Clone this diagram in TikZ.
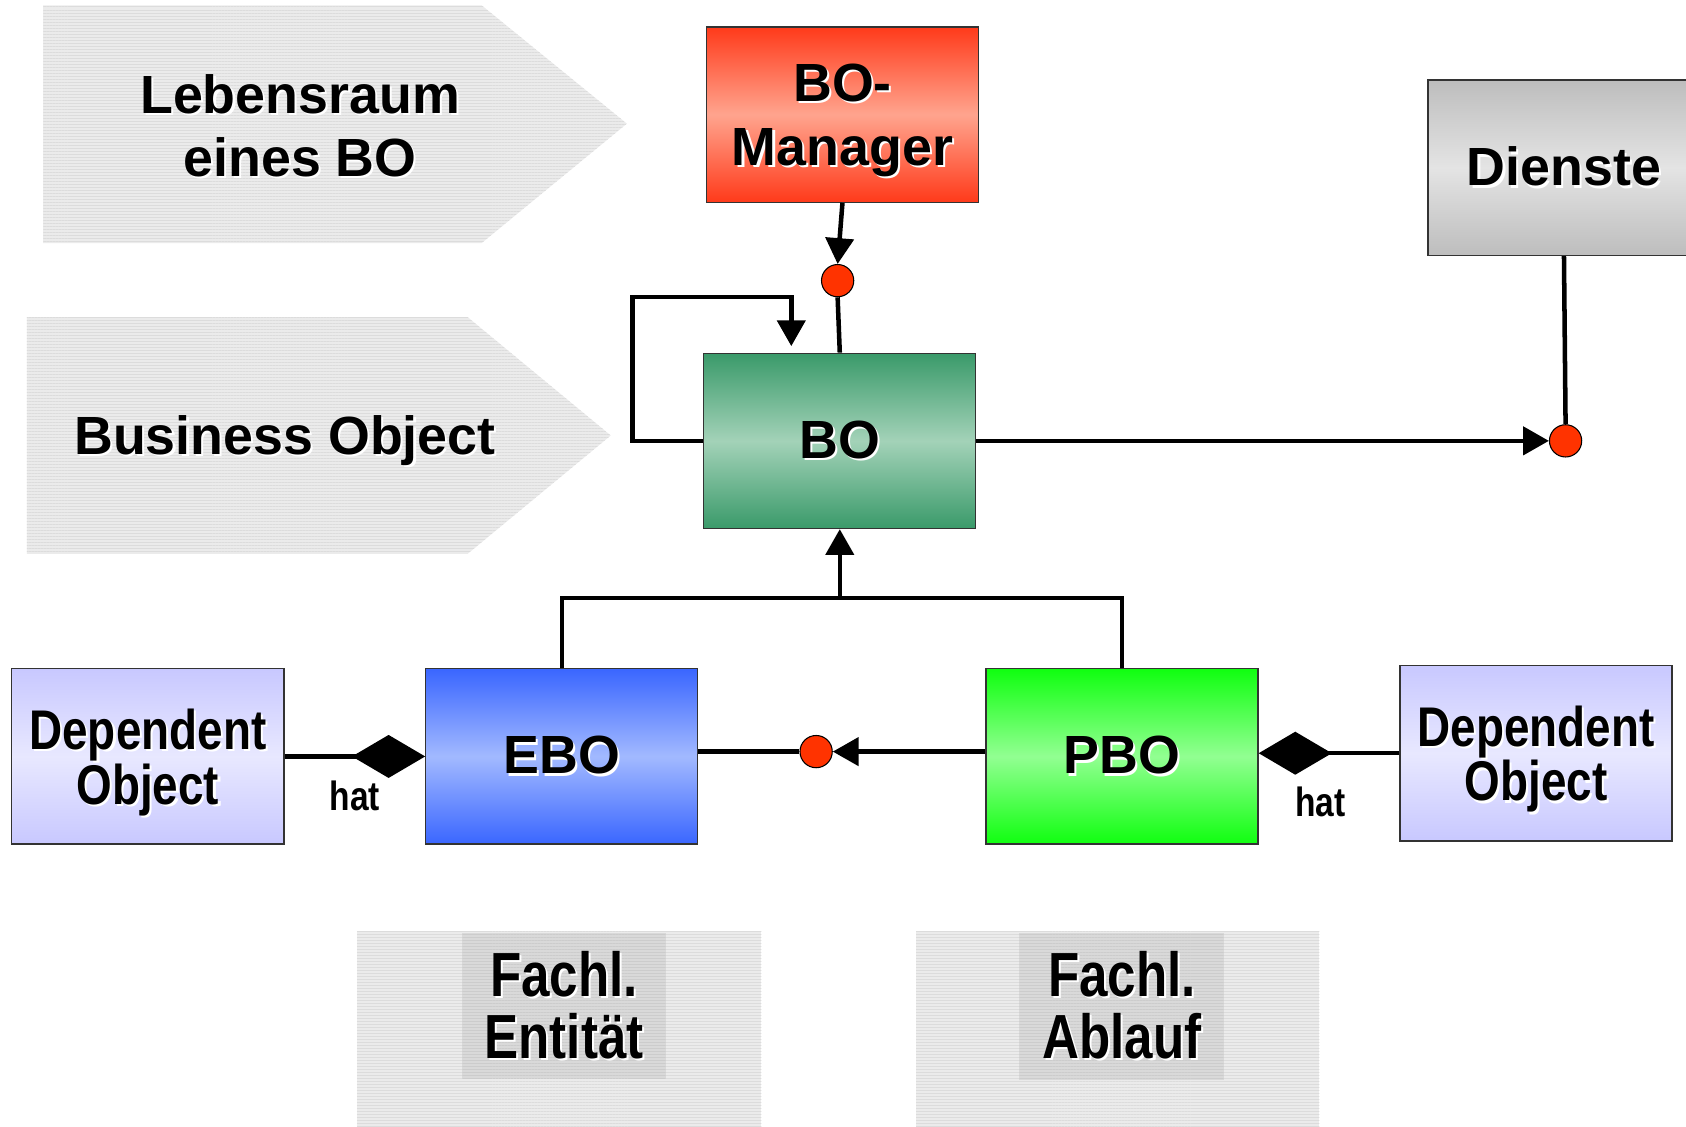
\documentclass[tikz,border=0pt]{standalone}
\usepackage{fontspec}
\setmainfont{Liberation Sans}
\newfontfamily\narrowfont[FakeStretch=0.82]{Liberation Sans}
\usetikzlibrary{arrows.meta,patterns.meta}

\definecolor{mgrred}{HTML}{FF3A1A}
\definecolor{mgrmid}{HTML}{FFA48E}
\definecolor{bogreen}{HTML}{3A9A6A}
\definecolor{bomid}{HTML}{A3D2B8}
\definecolor{svcgray}{HTML}{BDBDBD}
\definecolor{svcmid}{HTML}{E4E4E4}
\definecolor{eboblue}{HTML}{3A66FF}
\definecolor{ebomid}{HTML}{A2B9FF}
\definecolor{pbogreen}{HTML}{10FF10}
\definecolor{pbomid}{HTML}{92FF92}
\definecolor{dolav}{HTML}{C8C8FF}
\definecolor{domid}{HTML}{E8E8FF}
\definecolor{portred}{HTML}{FF3300}
\definecolor{bandgray}{HTML}{EBEBEB}
\definecolor{bandline}{HTML}{DCDCDC}
\definecolor{innergray}{HTML}{D9D9D9}

% text with a white drop shadow to the lower right
\newcommand\shd[1]{\makebox[0pt][l]{\hspace{1pt}\raisebox{-1pt}{\textcolor{white}{#1}}}#1}
% let stacked lines sit closer than their glyph boxes allow
\newcommand\tightlines{\lineskiplimit=-20pt\relax}

\begin{document}
\begin{tikzpicture}[x=0.5pt,y=-0.5pt,
  obj/.style={draw=black!80, line width=0.6pt, minimum width=126.5pt,
    minimum height=81.5pt, inner sep=0pt, align=center,
    font=\fontsize{25}{29.5}\selectfont\bfseries},
  grad/.style n args={2}{top color=#1, bottom color=#1, middle color=#2},
  depobj/.style={obj, grad={dolav}{domid}, text depth=0pt,
    font=\narrowfont\fontsize{26}{25.5}\selectfont\bfseries\tightlines},
  port/.style={circle, draw=black, line width=0.5pt, fill=portred,
    minimum size=15pt, inner sep=0pt},
  band/.style={fill=bandgray, postaction={pattern={Lines[angle=0,distance=1.4pt,line width=0.35pt]}, pattern color=bandline}},
  inner/.style={fill=innergray, postaction={pattern={Lines[angle=0,distance=1.4pt,line width=0.35pt]}, pattern color=black!20}},
  label/.style={align=center, inner sep=0pt, font=\fontsize{25}{29.5}\selectfont\bfseries},
  fachl/.style={align=center, inner sep=0pt, font=\narrowfont\fontsize{29}{29}\selectfont\bfseries},
  hatlbl/.style={inner sep=0pt, font=\narrowfont\fontsize{19}{22}\selectfont\bfseries},
  conn/.style={line width=2.1pt},
  arr/.style={conn, -{Triangle[length=12pt,width=13pt]}},
  comp/.style={conn, -{Diamond[length=34pt,width=20pt]}}
]
\useasboundingbox (0,0) rectangle (1568,1048);

% side bands
\path[band] (40,5) -- (448,5) -- (583,115) -- (448,226) -- (40,226) -- cycle;
\node[label] (lebensraum) at (279,118) {\shd{Lebensraum}\\\shd{eines BO}};
\path[band] (25,295) -- (435,295) -- (568,405) -- (435,515) -- (25,515) -- cycle;
\node[label] (busobj) at (265,411) {\shd{Business Object}};

% bottom bands
\path[band] (332,866) rectangle (708,1048);
\path[inner] (430,868) rectangle (619,1003);
\node[fachl] (entitaet) at (524.5,936) {\shd{Fachl.}\\\shd{Entität}};
\path[band] (852,866) rectangle (1227,1048);
\path[inner] (948,868) rectangle (1138,1004);
\node[fachl] (ablauf) at (1043.5,936) {\shd{Fachl.}\\\shd{Ablauf}};

% objects
\node[obj, grad={mgrred}{mgrmid}, text depth=0pt] (mgr) at (783.5,106.5) {\shd{BO-}\\\shd{Manager}};
\node[obj, grad={bogreen}{bomid}] (bo) at (781,410) {\shd{BO}};
\node[obj, grad={svcgray}{svcmid}] (dienste) at (1454.5,156) {\shd{Dienste}};
\node[obj, grad={eboblue}{ebomid}] (ebo) at (522.5,703.5) {\shd{EBO}};
\node[obj, grad={pbogreen}{pbomid}] (pbo) at (1043.5,703.5) {\shd{PBO}};
\node[depobj] (dep1) at (137.5,703.5) {\shd{Dependent}\\\shd{Object}};
\node[depobj] (dep2) at (1428.5,700.5) {\shd{Dependent}\\\shd{Object}};

% interface ports
\node[port] (pmgr) at (779,261) {};
\node[port] (psvc) at (1456,410) {};
\node[port] (pebo) at (759,699) {};

% connectors
\draw[arr] (mgr.south) -- (pmgr.north);
\draw[conn] (pmgr.south) -- (bo.north);
\coordinate (loop) at (588,276);
\draw[arr, shorten >=3pt] (bo.west) -| (loop) -| ([xshift=41pt]bo.north west);
\draw[arr] (bo.east) -- (psvc.west);
\draw[conn] (dienste.south) -- (psvc.north);

\coordinate (join) at (781,556);
\draw[conn] (ebo.north) |- (join) -| (pbo.north);
\draw[arr] (join) -- (bo.south);

\draw[conn] (ebo.east |- pebo.west) -- (pebo.west);
\draw[arr] (pbo.west |- pebo.east) -- (pebo.east);

\draw[comp] (dep1.east) -- (ebo.west |- dep1.east);
\draw[comp] (dep2.west) -- (pbo.east |- dep2.west);
\node[hatlbl] (hat1) at (330,741) {\shd{hat}};
\node[hatlbl] (hat2) at (1228,747) {\shd{hat}};
\end{tikzpicture}
\end{document}
